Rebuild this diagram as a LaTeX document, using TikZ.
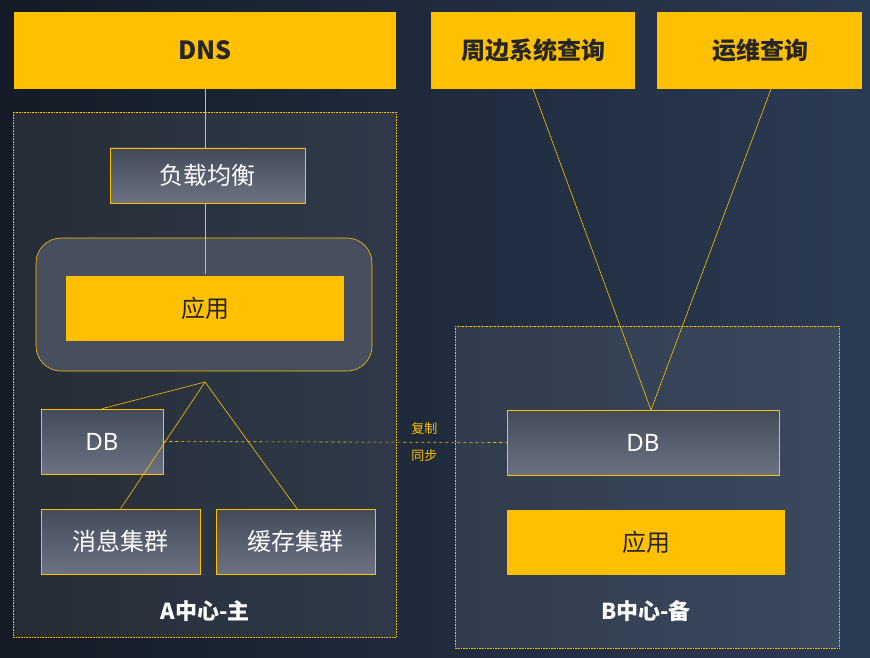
\documentclass[tikz,border=0pt]{standalone}
\usepackage{fontspec}
\setmainfont{Noto Sans}
\newfontfamily\cjk{Noto Sans CJK SC}
\usetikzlibrary{positioning}
\definecolor{jaune}{HTML}{FFC000}
\definecolor{encre}{HTML}{262626}
\definecolor{fondg}{HTML}{141B26}
\definecolor{fondd}{HTML}{2B3B53}
\definecolor{grishaut}{HTML}{434B59}
\definecolor{grisbas}{HTML}{6C7282}
\definecolor{grisrond}{HTML}{474F5E}
\begin{document}
\begin{tikzpicture}[x=1pt,y=-1pt]
			\tikzset{jbox/.style={fill=jaune, text=encre, font=\cjk\fontsize{24}{26}\selectfont},
			gbox/.style={top color=grishaut, bottom color=grisbas, draw=jaune, line width=0.6pt, text=white, font=\cjk\fontsize{24}{26}\selectfont},
			zone/.style={draw=jaune, densely dotted, line width=0.6pt, fill=white, fill opacity=0.08},
			trait/.style={draw=jaune, line width=0.6pt},
			titre/.style={text=white, font=\cjk\bfseries\fontsize{22}{24}\selectfont}};

			% fond
			\shade[left color=fondg, right color=fondd] (0,0) rectangle (870,658);
			\useasboundingbox (0,0) rectangle (870,658);

			% zones
			\draw[zone] (13,112) rectangle (396,637);
			\draw[zone] (455,326) rectangle (839,648);
			\draw[trait, fill=grisrond, rounded corners=25pt] (36,238) rectangle (372,371);

			% boites du haut
			\fill[jaune] (14,12) rectangle (396,89);
			\node[text=encre, font=\cjk\bfseries\fontsize{25}{27}\selectfont] (dns) at (205,50) {DNS};
			\fill[jaune] (431,12) rectangle (635,89);
			\node[text=encre, font=\cjk\bfseries\fontsize{24}{26}\selectfont] (peri) at (533,50) {周边系统查询};
			\fill[jaune] (657,12) rectangle (862,89);
			\node[text=encre, font=\cjk\bfseries\fontsize{24}{26}\selectfont] (ops) at (760,50) {运维查询};
			\coordinate (dnsb) at (205,89);
			\coordinate (perib) at (533,89);
			\coordinate (opsb) at (771,89);

			% centre A
			\node[gbox, minimum width=195pt, minimum height=55pt] (lb) at (207.5,175.5) {负载均衡};
			\node[jbox, minimum width=278pt, minimum height=65pt] (appa) at (205,308.5) {应用};
			\node[gbox, minimum width=122pt, minimum height=65pt, font=\fontsize{24}{26}\selectfont] (dba) at (102,441.5) {DB};
			\node[gbox, minimum width=159pt, minimum height=65pt] (mq) at (120.5,541.5) {消息集群};
			\node[gbox, minimum width=159pt, minimum height=65pt] (cache) at (295.5,541.5) {缓存集群};
			\node[titre] (ta) at (205,611) {A中心-主};
			\coordinate (sommet) at (205,382);

			% centre B
			\node[gbox, minimum width=272pt, minimum height=65pt, font=\fontsize{24}{26}\selectfont] (dbb) at (643,442.5) {DB};
			\node[jbox, minimum width=278pt, minimum height=65pt] (appb) at (646,542.5) {应用};
			\node[titre] (tb) at (646,611) {B中心-备};
			\coordinate (dbbt) at (651,410);

			% liaisons
			\draw[trait] (dnsb) -- (dnsb |- lb.north);
			\draw[trait] (dnsb |- lb.south) -- (205,274);
			\draw[trait] (sommet) -- (dba.north);
			\draw[trait] (sommet) -- (mq.north);
			\draw[trait] (sommet) -- ([xshift=1.5pt]cache.north);
			\draw[trait] (perib) -- (dbbt);
			\draw[trait] (opsb) -- (dbbt);
			\draw[trait, dashed] (dba.east) -- (dbb.west)
				node[pos=0.76, above=4pt, text=jaune, font=\cjk\fontsize{13}{14}\selectfont] {复制}
				node[pos=0.76, below=4pt, text=jaune, font=\cjk\fontsize{13}{14}\selectfont] {同步};

		\end{tikzpicture}
\end{document}
